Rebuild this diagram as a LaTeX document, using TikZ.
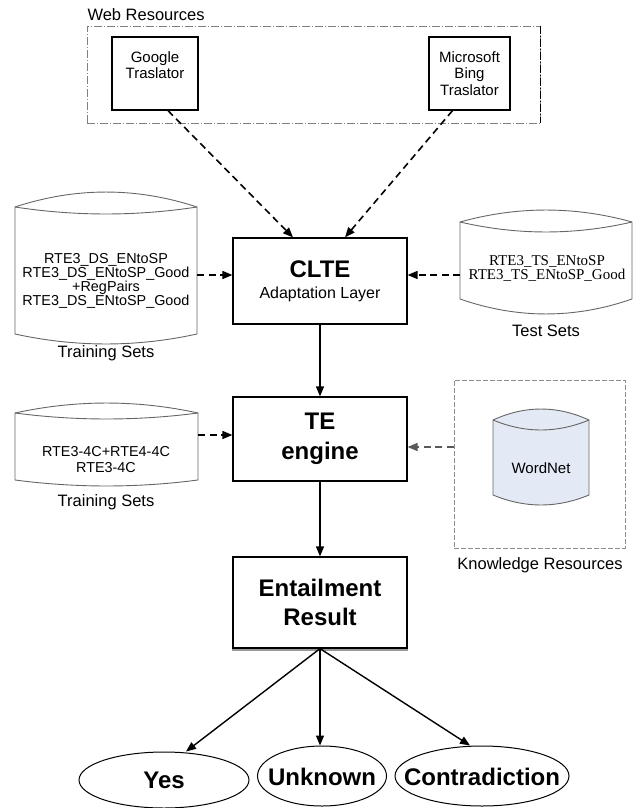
\documentclass[tikz,border=0pt]{standalone}
\usepackage{fontspec}
\setmainfont{Liberation Sans}
\newfontfamily\timesrm{Liberation Serif}
\usetikzlibrary{arrows.meta,shapes.geometric}
\definecolor{wnblue}{RGB}{228,234,245}
\newcommand{\datastore}[8][]{%
	\draw[#1] (#2,#4) .. controls ({#2+(#3-#2)/3},{#4-1.33*#6}) and ({#3-(#3-#2)/3},{#4-1.33*#6}) .. (#3,#4)
		-- (#3,#5) .. controls ({#3-(#3-#2)/3},{#5+1.33*#8}) and ({#2+(#3-#2)/3},{#5+1.33*#8}) .. (#2,#5) -- cycle;
	\draw[#1,fill=none] (#2,#4) .. controls ({#2+(#3-#2)/3},{#4+1.33*#7}) and ({#3-(#3-#2)/3},{#4+1.33*#7}) .. (#3,#4);
}

\begin{document}
\begin{tikzpicture}[x=1pt,y=-1pt,>={Triangle[length=10pt,width=8pt]},
		box/.style={draw,line width=1.2pt,minimum width=174pt,align=center,inner sep=0pt},
		srcbox/.style={draw,line width=1.2pt,minimum width=86pt,minimum height=73pt},
		txt/.style={align=center,font=\fontsize{15}{16.5}\selectfont},
		caption/.style={font=\fontsize{16.5}{18}\selectfont},
		bigtxt/.style={align=center,font=\bfseries\fontsize{24}{29.5}\selectfont},
		outcome/.style={draw,ellipse,line width=1pt,inner sep=0pt},
		feed/.style={->,dash pattern=on 7pt off 4.5pt,line width=1.6pt},
		flow/.style={->,line width=1.4pt},
		store/.style={draw=black!60,line width=0.9pt}]
	\useasboundingbox (0,0) rectangle (636,808);

	\node[draw=black!50,dash pattern=on 8pt off 2pt on 1pt off 2pt,minimum width=453pt,minimum height=97pt] (web) at (313.5,74.5) {};
	\draw[line width=1.4pt,dash pattern=on 8pt off 2pt on 1pt off 2pt] (web.north east) -- (web.south east);
	\node[caption,anchor=west] (web-l) at (84,15) {Web Resources};
	\node[srcbox] (google) at (155,73.5) {};
	\node[txt] (google-t) at (155,65) {Google\\Traslator};
	\node[srcbox,minimum width=81pt,txt] (bing) at (469.5,73.5) {Microsoft\\Bing\\Traslator};

	\node[box,minimum height=86pt,font=\bfseries\fontsize{24}{21}\selectfont] (clte) at (320,281) {CLTE\\{\mdseries\fontsize{16}{16}\selectfont Adaptation Layer}};
	\node[box,bigtxt,minimum height=84pt] (te) at (320,439) {TE\\engine};
	\node[box,bigtxt,minimum height=91pt] (ent) at (320,602.5) {Entailment\\Result};
	\draw[black!40,line width=2pt] ([yshift=-1.6pt]ent.south west) -- ([yshift=-1.6pt]ent.south east);

	\datastore[store]{15}{197}{207}{334}{15}{7}{10}
	\node[font=\fontsize{14.4}{14}\selectfont,align=center] (ds1) at (106,281) {RTE3\_DS\_ENtoSP\\RTE3\_DS\_ENtoSP\_Good\\+RegPairs\\RTE3\_DS\_ENtoSP\_Good};
	\node[caption] (ds1-l) at (106,353) {Training Sets};

	\datastore[store]{460}{632}{222}{299}{12}{10}{15}
	\node[font=\timesrm\fontsize{15}{14}\selectfont,align=center] (ts) at (547,268) {RTE3\_TS\_ENtoSP\\RTE3\_TS\_ENtoSP\_Good};
	\node[caption] (ts-l) at (546,331) {Test Sets};

	\datastore[store]{15}{198}{413}{480}{10}{6}{6}
	\node[font=\fontsize{14.4}{16}\selectfont,align=center] (ds2) at (106,460) {RTE3-4C+RTE4-4C\\RTE3-4C};
	\node[caption] (ds2-l) at (106,502) {Training Sets};

	\node[draw=black!45,dash pattern=on 5pt off 2pt,minimum width=171pt,minimum height=168pt] (kr) at (539.5,464) {};
	\datastore[store,fill=wnblue]{493}{589}{420}{495}{11}{10}{10}
	\node[txt] (wn) at (541,468) {WordNet};
	\node[caption] (kr-l) at (540,565) {Knowledge Resources};

	\node[outcome,minimum width=170pt,minimum height=56pt] (yes) at (164,780) {};
	\node[bigtxt] (yes-t) at (164,780) {Yes};
	\node[outcome,minimum width=129pt,minimum height=60pt] (unk) at (322,776) {};
	\node[bigtxt] (unk-t) at (322,777) {Unknown};
	\node[outcome,minimum width=174pt,minimum height=60pt] (ctr) at (482,776) {};
	\node[bigtxt] (ctr-t) at (482,777) {Contradiction};

	\coordinate (ds1-out) at (197,275);
	\coordinate (ts-out) at (460,275);
	\coordinate (ds2-out) at (198,435);
	\coordinate (kr-out) at ([yshift=17pt]kr.west);
	\draw[feed] ([xshift=13pt]google.south) -- ([xshift=-27pt]clte.north);
	\draw[feed] ([xshift=-17pt]bing.south) -- ([xshift=25pt]clte.north);
	\draw[feed] (ds1-out) -- (ds1-out -| clte.west);
	\draw[feed] (ts-out) -- (ts-out -| clte.east);
	\draw[feed] (ds2-out) -- (ds2-out -| te.west);
	\draw[feed,black!65] (kr-out) -- (kr-out -| te.east);
	\draw[flow] (clte) -- (te);
	\draw[flow] (te) -- (ent);
	\draw[flow] (ent.south) -- ([xshift=22pt]yes.north);
	\draw[flow] (ent.south) -- (ent.south |- unk.north);
	\draw[flow] (ent.south) -- ([xshift=-12pt]ctr.north);
\end{tikzpicture}
\end{document}
